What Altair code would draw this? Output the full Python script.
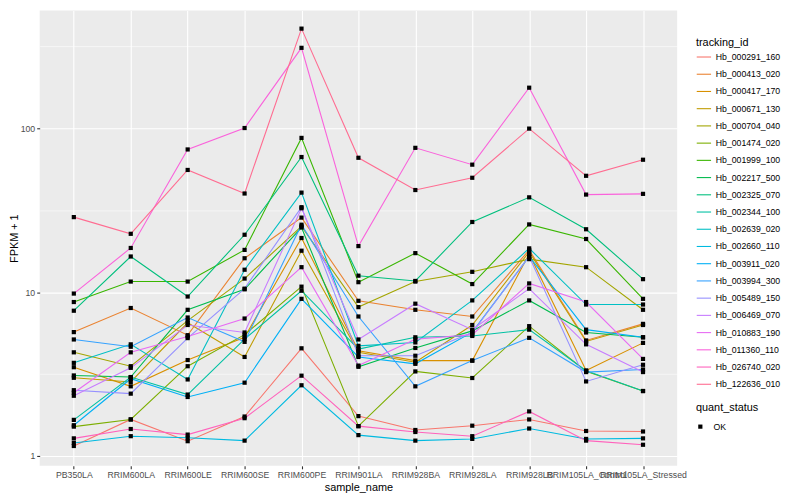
import altair as alt
import pandas as pd

FONT = "Liberation Sans"

samples = ["PB350LA", "RRIM600LA", "RRIM600LE", "RRIM600SE", "RRIM600PE", "RRIM901LA",
           "RRIM928BA", "RRIM928LA", "RRIM928LB", "RRIM105LA_Control", "RRIM105LA_Stressed"]

tracking_ids = ["Hb_000291_160", "Hb_000413_020", "Hb_000417_170", "Hb_000671_130", "Hb_000704_040",
                "Hb_001474_020", "Hb_001999_100", "Hb_002217_500", "Hb_002325_070", "Hb_002344_100",
                "Hb_002639_020", "Hb_002660_110", "Hb_003911_020", "Hb_003994_300", "Hb_005489_150",
                "Hb_006469_070", "Hb_010883_190", "Hb_011360_110", "Hb_026740_020", "Hb_122636_010"]

palette = ["#F8766D", "#EA8331", "#D89000", "#C09B00", "#A3A500", "#7CAE00", "#39B600", "#00BB4E",
           "#00BF7D", "#00C1A3", "#00BFC4", "#00BAE0", "#00B0F6", "#35A2FF", "#9590FF", "#C77CFF",
           "#E76BF3", "#FA62DB", "#FF62BC", "#FF6C91"]

# FPKM + 1 per sample (same order as `samples`)
hb_000291_160 = [1.15, 1.67, 1.23, 1.74, 4.54, 1.75, 1.44, 1.53, 1.67, 1.42, 1.41]
hb_000413_020 = [5.7, 8.0, 5.46, 16.1, 28.5, 8.85, 7.8, 7.1, 18.1, 5.07, 6.4]
hb_000417_170 = [3.48, 2.66, 3.85, 5.3, 21.4, 4.39, 3.82, 3.82, 17.1, 3.32, 4.9]
hb_000671_130 = [3.0, 2.83, 6.5, 4.02, 17.9, 4.29, 3.73, 6.3, 17.6, 5.0, 6.3]
hb_000704_040 = [4.29, 3.53, 6.7, 12.1, 25.2, 8.1, 11.6, 13.3, 15.9, 14.2, 7.8]
hb_001474_020 = [1.51, 1.67, 3.53, 5.5, 10.8, 1.52, 3.28, 2.99, 6.2, 3.29, 2.49]
hb_001999_100 = [8.7, 11.6, 11.6, 18.1, 87.4, 11.5, 17.3, 11.2, 25.9, 21.1, 9.1]
hb_002217_500 = [3.10, 3.03, 7.8, 10.4, 24.8, 3.5, 4.56, 5.8, 8.9, 5.67, 5.3]
hb_002325_070 = [7.7, 16.5, 9.4, 22.4, 66.8, 12.6, 11.7, 26.8, 37.9, 24.2, 12.0]
hb_002344_100 = [1.66, 3.03, 2.37, 5.16, 10.2, 4.49, 5.3, 5.4, 5.9, 3.31, 2.49]
hb_002639_020 = [3.70, 4.8, 2.93, 13.7, 40.5, 4.7, 4.93, 8.9, 18.5, 8.4, 8.4]
hb_002660_110 = [1.20, 1.32, 1.29, 1.24, 2.70, 1.34, 1.24, 1.27, 1.47, 1.27, 1.28]
hb_003911_020 = [1.54, 2.96, 2.29, 2.80, 9.1, 4.02, 3.65, 5.7, 16.5, 5.9, 5.3]
hb_003994_300 = [5.14, 4.64, 7.0, 4.97, 25.8, 7.1, 2.66, 3.82, 5.26, 3.25, 3.37]
hb_005489_150 = [2.52, 2.40, 5.24, 10.5, 33.0, 4.09, 4.09, 5.67, 16.5, 2.85, 3.6]
hb_006469_070 = [2.33, 3.45, 6.3, 5.67, 32.5, 5.14, 8.5, 5.9, 10.5, 4.8, 3.25]
hb_010883_190 = [2.43, 4.29, 5.36, 6.9, 14.2, 3.56, 5.16, 5.5, 11.3, 8.7, 3.91]
hb_011360_110 = [9.8, 18.6, 74.3, 100.4, 310, 19.1, 76.0, 60.0, 177, 39.4, 39.8]
hb_026740_020 = [1.28, 1.46, 1.35, 1.70, 3.09, 1.52, 1.40, 1.32, 1.87, 1.24, 1.17]
hb_122636_010 = [28.7, 22.7, 55.7, 40.0, 406, 66.1, 42.0, 49.9, 99.6, 51.3, 64.3]

series = [hb_000291_160, hb_000413_020, hb_000417_170, hb_000671_130, hb_000704_040,
          hb_001474_020, hb_001999_100, hb_002217_500, hb_002325_070, hb_002344_100,
          hb_002639_020, hb_002660_110, hb_003911_020, hb_003994_300, hb_005489_150,
          hb_006469_070, hb_010883_190, hb_011360_110, hb_026740_020, hb_122636_010]

y_ticks = [1, 3.1623, 10, 31.623, 100, 316.23]

rows = []
for tid, vals in zip(tracking_ids, series):
    for s, v in zip(samples, vals):
        rows.append({"tracking_id": tid, "sample_name": s, "fpkm": v, "quant_status": "OK"})
df = pd.DataFrame(rows)

major = "datum.value == 1 || datum.value == 10 || datum.value == 100"

x_enc = alt.X(
    "sample_name:N", sort=samples,
    scale=alt.Scale(type="point", padding=0.6),
    axis=alt.Axis(title="sample_name", labelAngle=0, labelFontSize=8.8, labelColor="#4D4D4D",
                  labelFont=FONT, tickColor="#333333", tickSize=3, tickWidth=1.1, labelPadding=2,
                  grid=True, gridColor="white", gridWidth=1.1, domain=False,
                  titleFontSize=11, titleFont=FONT, titleColor="black", titleFontWeight="normal",
                  titlePadding=2),
)
y_enc = alt.Y(
    "fpkm:Q",
    scale=alt.Scale(type="log", domain=[0.87, 524], nice=False),
    axis=alt.Axis(title="FPKM + 1", values=y_ticks,
                  labelExpr="(" + major + ") ? format(datum.value, 'd') : ''",
                  labelFontSize=8.8, labelColor="#4D4D4D", labelFont=FONT,
                  tickColor="#333333", tickSize=3, tickWidth=1.1, labelPadding=2,
                  tickOpacity={"condition": {"test": major, "value": 1}, "value": 0},
                  grid=True, gridColor="white",
                  gridWidth={"condition": {"test": major, "value": 1.1}, "value": 0.55},
                  domain=False, labelOverlap=False,
                  titleFontSize=11, titleFont=FONT, titleColor="black", titleFontWeight="normal",
                  titlePadding=1),
)

lines = alt.Chart(df).mark_line(strokeWidth=1.1).encode(
    x=x_enc, y=y_enc,
    color=alt.Color("tracking_id:N",
                    scale=alt.Scale(domain=tracking_ids, range=palette),
                    legend=alt.Legend(title="tracking_id", orient="none", legendX=663, legendY=27,
                                      direction="vertical", columns=1, symbolLimit=30,
                                      symbolType="stroke", symbolSize=210, symbolStrokeWidth=1.1,
                                      rowPadding=4.4, labelOffset=4, titlePadding=1,
                                      titleFontSize=11, titleFont=FONT, titleFontWeight="normal",
                                      titleColor="black", labelFontSize=8.8, labelFont=FONT,
                                      labelColor="black", padding=0)),
    detail="tracking_id:N",
)

points = alt.Chart(df).mark_point(filled=True, size=18, opacity=1).encode(
    x=x_enc, y=y_enc,
    color=alt.value("black"),
    shape=alt.Shape("quant_status:N", scale=alt.Scale(range=["square"]),
                    legend=alt.Legend(title="quant_status", orient="none", legendX=663, legendY=396,
                                      direction="vertical", symbolSize=18, symbolFillColor="black",
                                      symbolStrokeColor="black", rowPadding=2, labelOffset=9,
                                      titlePadding=9, titleFontSize=11, titleFont=FONT,
                                      titleFontWeight="normal", titleColor="black",
                                      labelFontSize=8.8, labelFont=FONT, labelColor="black",
                                      padding=0)),
)

chart = alt.layer(lines, points).properties(
    width=644, height=460,
    autosize=alt.AutoSizeParams(type="none"),
    padding={"left": 32, "top": 0, "right": 116, "bottom": 32},
).configure(background="white").configure_view(fill="#EBEBEB", strokeWidth=0)

chart.save("out.html", embed_options={"renderer": "svg", "actions": False})
